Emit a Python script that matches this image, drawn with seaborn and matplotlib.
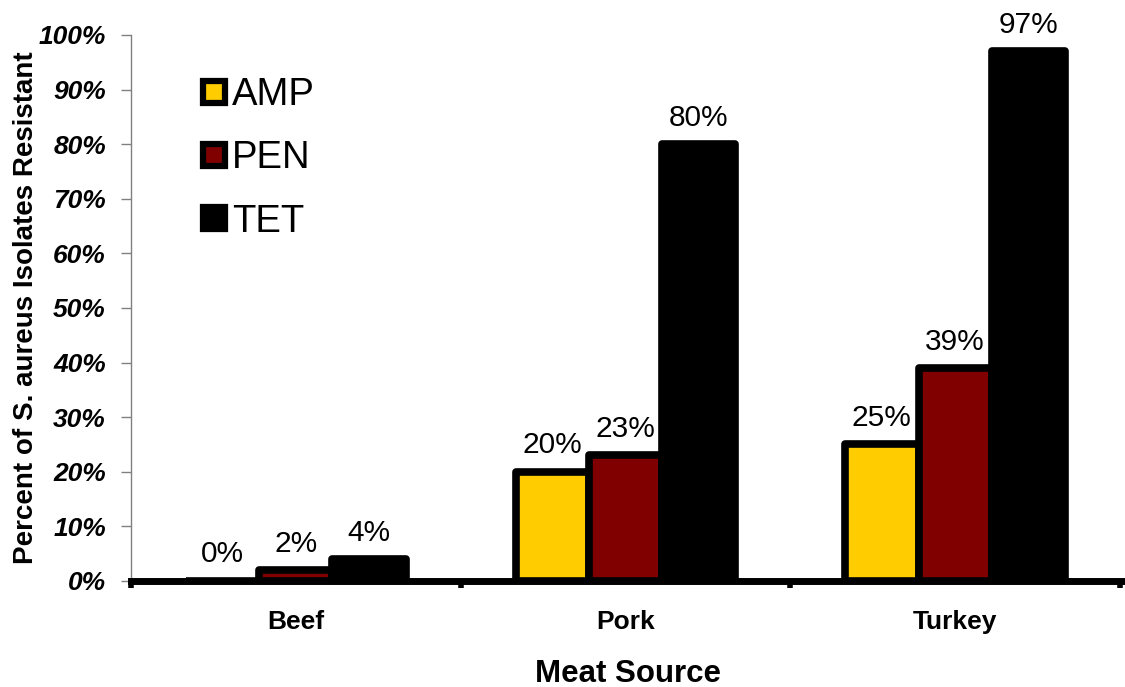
import matplotlib
matplotlib.use("Agg")
import matplotlib.pyplot as plt
from matplotlib.lines import Line2D
from matplotlib.ticker import FixedLocator, PercentFormatter
import pandas as pd
import seaborn as sns

# Resistance data (% of isolates) by meat source and antibiotic
sources = ["Beef", "Pork", "Turkey"]
drugs = ["AMP", "PEN", "TET"]
amp = [0, 20, 25]
pen = [2, 23, 39]
tet = [4, 80, 97]
colors = ["#FFCC00", "#800000", "#000000"]

rows = []
for d, vals in zip(drugs, [amp, pen, tet]):
    for s, v in zip(sources, vals):
        rows.append({"source": s, "drug": d, "pct": v})
df = pd.DataFrame(rows)

sns.set_theme(style="white")
plt.rcParams["font.family"] = ["Liberation Sans", "DejaVu Sans"]
plt.rcParams["text.color"] = "black"
plt.rcParams["axes.labelcolor"] = "black"
plt.rcParams["xtick.color"] = "black"
plt.rcParams["ytick.color"] = "black"

fig = plt.figure(figsize=(11.25, 6.87), dpi=100)
ax = fig.add_axes([0.1164, 0.1543, 0.8836, 0.7948])

sns.barplot(data=df, x="source", y="pct", hue="drug", order=sources,
            hue_order=drugs, palette=colors, saturation=1, width=0.667,
            gap=0, edgecolor="black", linewidth=5.5, ax=ax, legend=False,
            zorder=3)

for p in ax.patches:
    p.set_joinstyle("round")

# value labels above each bar
for container, d in zip(ax.containers, drugs):
    for bar, v in zip(container, df[df.drug == d]["pct"]):
        ax.annotate(f"{v}%", (bar.get_x() + bar.get_width() / 2, v),
                    xytext=(0, 9), textcoords="offset points",
                    ha="center", va="bottom", fontsize=21.5, color="black")

ax.set_ylim(0, 100)
ax.set_xlim(-0.5, 2.515)
ax.yaxis.set_major_locator(FixedLocator(range(0, 101, 10)))
ax.yaxis.set_major_formatter(PercentFormatter(decimals=0))
for lbl in ax.get_yticklabels():
    lbl.set_fontweight("bold")
    lbl.set_fontstyle("italic")
    lbl.set_fontsize(19)

ax.set_xticks(range(len(sources)))
ax.set_xticklabels(sources, fontsize=19, fontweight="bold")
ax.xaxis.set_minor_locator(FixedLocator([-0.5, 0.5, 1.5, 2.5]))
ax.tick_params(axis="x", which="major", length=0, pad=21)
ax.tick_params(axis="x", which="minor", length=5, width=4, color="black",
               direction="out", bottom=True)
ax.tick_params(axis="y", which="major", length=7, width=1, color="#808080",
               direction="out", left=True, pad=11, labelcolor="black")

for side in ["top", "right"]:
    ax.spines[side].set_visible(False)
ax.spines["left"].set_color("#808080")
ax.spines["left"].set_linewidth(1)
ax.spines["bottom"].set_color("black")
ax.spines["bottom"].set_linewidth(5)
ax.spines["bottom"].set_zorder(5)

ax.set_xlabel("Meat Source", fontsize=22.5, fontweight="bold", labelpad=18)
ax.set_ylabel("Percent of S. aureus Isolates Resistant", fontsize=20,
              fontweight="bold", labelpad=0)

handles = [Line2D([], [], marker="s", linestyle="", markersize=16,
                  markerfacecolor=c, markeredgecolor="black",
                  markeredgewidth=4.5) for c in colors]
ax.legend(handles, drugs, loc="upper left", bbox_to_anchor=(0.05, 0.9505),
          frameon=False, fontsize=27.5, handletextpad=0.0, labelspacing=0.71,
          handlelength=0.95, borderaxespad=0)

fig.savefig("out.png", dpi=100)
